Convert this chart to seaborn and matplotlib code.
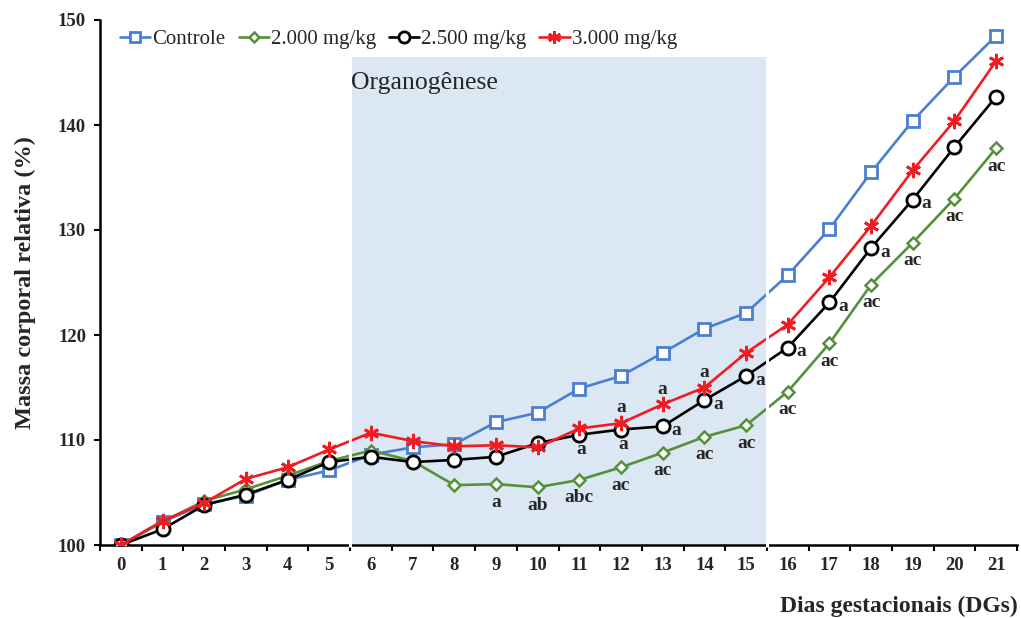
import matplotlib
matplotlib.use("Agg")
import matplotlib.pyplot as plt
import seaborn as sns
import pandas as pd

# Gestational days and relative body mass (%) per group
days = list(range(22))
controle = [100.0, 102.2, 103.9, 104.7, 106.2, 107.1, 108.6, 109.3, 109.6, 111.7, 112.6,
            114.9, 116.1, 118.3, 120.6, 122.1, 125.7, 130.1, 135.5, 140.4, 144.6, 148.5]
dose_2000 = [100.0, 102.2, 104.2, 105.3, 106.6, 108.0, 109.0, 108.0, 105.7, 105.8, 105.5,
             106.2, 107.4, 108.8, 110.3, 111.4, 114.6, 119.2, 124.8, 128.8, 133.0, 137.8]
dose_2500 = [100.0, 101.5, 103.8, 104.8, 106.2, 107.9, 108.4, 107.9, 108.1, 108.4, 109.7,
             110.5, 111.0, 111.3, 113.8, 116.1, 118.8, 123.1, 128.3, 132.9, 137.9, 142.7]
dose_3000 = [100.0, 102.3, 104.0, 106.3, 107.4, 109.1, 110.7, 109.9, 109.4, 109.5, 109.3,
             111.1, 111.6, 113.4, 115.0, 118.3, 121.0, 125.5, 130.4, 135.7, 140.4, 146.1]

series_names = ["Controle", "2.000 mg/kg", "2.500 mg/kg", "3.000 mg/kg"]

# Significance letters per group (day -> letters)
labels_2000 = {9: "a", 10: "ab", 11: "abc", 12: "ac", 13: "ac", 14: "ac", 15: "ac",
               16: "ac", 17: "ac", 18: "ac", 19: "ac", 20: "ac", 21: "ac"}
labels_2500 = {11: "a", 12: "a", 13: "a", 14: "a", 15: "a", 16: "a", 17: "a", 18: "a", 19: "a"}
labels_3000 = {12: "a", 13: "a", 14: "a"}

organogenesis = (5.5, 15.5)

df = pd.DataFrame({"dia": days, series_names[0]: controle, series_names[1]: dose_2000,
                   series_names[2]: dose_2500, series_names[3]: dose_3000})

sns.set_style("ticks")
plt.rcParams["font.family"] = ["Liberation Serif", "DejaVu Serif"]

fig = plt.figure(figsize=(10.21, 6.18), dpi=100)
ax = fig.add_axes([100 / 1021, 73 / 618, 917 / 1021, 525 / 618])

styles = {
    "Controle": dict(color="#4a7fd0", marker="s", markersize=8.5, markeredgewidth=2.0),
    "2.000 mg/kg": dict(color="#559139", marker="D", markersize=6.5, markeredgewidth=1.8),
    "2.500 mg/kg": dict(color="#000000", marker="o", markersize=9.5, markeredgewidth=2.0),
    "3.000 mg/kg": dict(color="#f01c22", marker=(6, 2, 0), markersize=11, markeredgewidth=2.0),
}

ymax_shade = 146.5
ax.axvspan(*organogenesis, ymin=0, ymax=(ymax_shade - 100) / 50,
           facecolor="#dce7f4", edgecolor="none", zorder=0)

for name in series_names:
    st = styles[name]
    sns.lineplot(data=df, x="dia", y=name, ax=ax, color=st["color"], marker=st["marker"],
                 markersize=st["markersize"], markerfacecolor="white",
                 markeredgecolor=st["color"], markeredgewidth=st["markeredgewidth"],
                 linewidth=1.9, label=name, zorder=4)

# white borders of the organogenesis band, drawn over lines and axis
ax.vlines(list(organogenesis), 99.8, ymax_shade, colors="white", linewidth=2.2,
          zorder=10, clip_on=False)

ax.text(5.52, 144.0, "Organogênese", fontsize=18.5, ha="left", va="center", zorder=11)

ann_kw = dict(textcoords="offset points", ha="center", va="center",
              fontsize=14, fontweight="bold", zorder=12)
for d, t in labels_2000.items():
    ax.annotate(t, (d, dose_2000[d]), xytext=(0, -13), **ann_kw)
for d, t in labels_2500.items():
    off = (1.5, -10.5) if d in (11, 12) else (10, -3)
    ax.annotate(t, (d, dose_2500[d]), xytext=off, **ann_kw)
for d, t in labels_3000.items():
    ax.annotate(t, (d, dose_3000[d]), xytext=(0, 11), **ann_kw)

ax.set_xlim(-0.5, 21.5)
ax.set_ylim(100, 150)
ax.set_xticks(days)
ax.set_xticklabels([str(d) for d in days])
ax.set_xticks([d + 0.5 for d in range(-1, 22)], minor=True)
ax.set_yticks(range(100, 151, 10))
ax.tick_params(axis="x", which="major", length=0, pad=9, labelsize=13.5)
ax.tick_params(axis="x", which="minor", length=4, width=1.5, direction="out", color="black")
ax.tick_params(axis="y", length=4, width=1.5, pad=6, labelsize=13.5, color="black")
for lab in ax.get_xticklabels() + ax.get_yticklabels():
    lab.set_fontweight("bold")

sns.despine(ax=ax)
for sp in ("left", "bottom"):
    ax.spines[sp].set_linewidth(1.8)
    ax.spines[sp].set_color("black")

ax.set_ylabel("Massa corporal relativa (%)", fontsize=17.5, fontweight="bold")
ax.yaxis.set_label_coords(-0.07, 0.5)
ax.set_xlabel("Dias gestacionais (DGs)", fontsize=17, fontweight="bold", loc="right")
ax.xaxis.set_label_coords(1.001, -0.097)

ax.legend(loc="upper left", bbox_to_anchor=(0.013, 0.997), ncol=4, frameon=False,
          fontsize=15, handlelength=1.45, handletextpad=0.1, columnspacing=0.62,
          borderaxespad=0.0, markerscale=0.85)

fig.savefig("out.png", dpi=100)
